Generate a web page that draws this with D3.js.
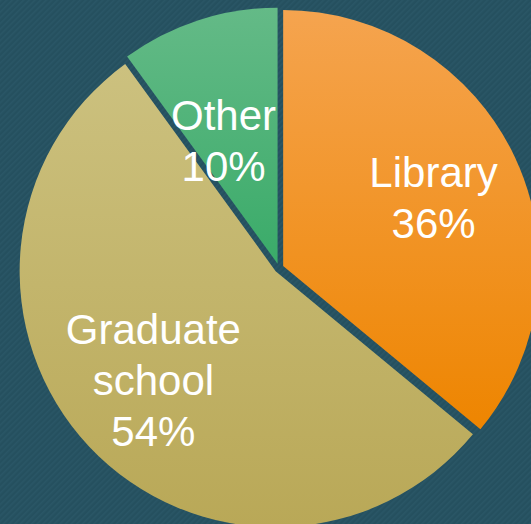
<!DOCTYPE html>
<html>
<head>
<meta charset="utf-8">
<script src="https://cdn.jsdelivr.net/npm/d3@7"></script>
<style>
  html, body { margin: 0; padding: 0; background: #26505f; overflow: hidden; }
  svg { display: block; }
</style>
</head>
<body>
<svg id="chart" width="531" height="524"></svg>
<script>
// ---- data ----
const categories = ["Library", "Graduate school", "Other"];
const values = [36, 54, 10];
const percentLabels = ["36%", "54%", "10%"];

// ---- layout / style ----
const W = 531, H = 524;
const cx = 279, cy = 268, R = 256;
const explode = 4.6;
const fontSize = 42, lineH = 51;
const gradients = [
  ["#f5a44f", "#ee8500"],
  ["#ccc17f", "#b9a857"],
  ["#64ba87", "#3aab69"]
];
const labelRadius = [164, 165, 136];
const labelNudge = [[2, 2], [-2, -4], [-12, 7]];

const svg = d3.select("#chart");
const defs = svg.append("defs");

// striped background
const pat = defs.append("pattern")
  .attr("id", "stripes").attr("width", 4).attr("height", 4)
  .attr("patternUnits", "userSpaceOnUse")
  .attr("patternTransform", "rotate(45)");
pat.append("rect").attr("width", 4).attr("height", 4).attr("fill", "#25505f");
pat.append("rect").attr("width", 1.6).attr("height", 4).attr("fill", "#2a5666");
svg.append("rect").attr("width", W).attr("height", H).attr("fill", "url(#stripes)");

gradients.forEach((g, i) => {
  const lg = defs.append("linearGradient").attr("id", "grad" + i)
    .attr("x1", 0).attr("y1", 0).attr("x2", 0).attr("y2", 1);
  lg.append("stop").attr("offset", "0%").attr("stop-color", g[0]);
  lg.append("stop").attr("offset", "100%").attr("stop-color", g[1]);
});

const pie = d3.pie().sort(null).value(d => d)(values);
const arc = d3.arc().innerRadius(0).outerRadius(R);

const g = svg.append("g").attr("transform", `translate(${cx},${cy})`);

const slices = g.selectAll("g.slice").data(pie).enter().append("g")
  .attr("class", "slice")
  .attr("transform", d => {
    const a = (d.startAngle + d.endAngle) / 2;
    return `translate(${explode * Math.sin(a)},${-explode * Math.cos(a)})`;
  });

slices.append("path")
  .attr("d", arc)
  .attr("fill", (d, i) => `url(#grad${i})`);

slices.each(function(d, i) {
  const a = (d.startAngle + d.endAngle) / 2;
  const lx = labelRadius[i] * Math.sin(a) + labelNudge[i][0];
  const ly = -labelRadius[i] * Math.cos(a) + labelNudge[i][1];
  const lines = categories[i].split(" ").concat([percentLabels[i]]);
  const n = lines.length;
  const t = d3.select(this).append("text")
    .attr("text-anchor", "middle")
    .attr("font-family", "'Liberation Sans', Arial, Helvetica, sans-serif")
    .attr("font-size", fontSize)
    .attr("fill", "#ffffff");
  lines.forEach((ln, k) => {
    t.append("tspan")
      .attr("x", lx)
      .attr("y", ly - (n - 1) * lineH / 2 + k * lineH + 0.35 * fontSize)
      .text(ln);
  });
});
</script>
</body>
</html>
